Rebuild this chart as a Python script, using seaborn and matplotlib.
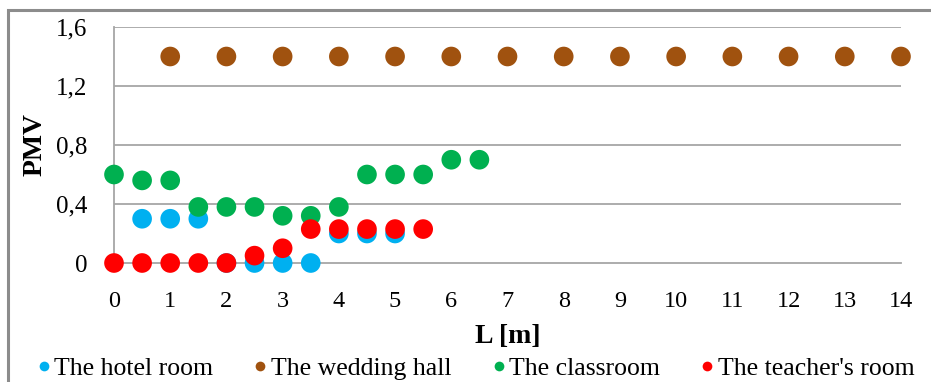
import matplotlib
matplotlib.use("Agg")
import matplotlib.pyplot as plt
from matplotlib.patches import Rectangle
from matplotlib.lines import Line2D
import seaborn as sns
import pandas as pd

sns.set_theme(style="white")
plt.rcParams["font.family"] = ["Liberation Serif", "DejaVu Serif"]
plt.rcParams["text.color"] = "black"
plt.rcParams["axes.labelcolor"] = "black"

# Measured PMV along distance L for each room
hotel_L = [0.5, 1, 1.5, 2, 2.5, 3, 3.5, 4, 4.5, 5]
hotel_pmv = [0.3, 0.3, 0.3, 0, 0, 0, 0, 0.2, 0.2, 0.2]

wedding_L = [1, 2, 3, 4, 5, 6, 7, 8, 9, 10, 11, 12, 13, 14]
wedding_pmv = [1.4] * 14

class_L = [0, 0.5, 1, 1.5, 2, 2.5, 3, 3.5, 4, 4.5, 5, 5.5, 6, 6.5]
class_pmv = [0.6, 0.56, 0.56, 0.38, 0.38, 0.38, 0.32, 0.32, 0.38, 0.6, 0.6, 0.6, 0.7, 0.7]

teacher_L = [0, 0.5, 1, 1.5, 2, 2.5, 3, 3.5, 4, 4.5, 5, 5.5]
teacher_pmv = [0, 0, 0, 0, 0, 0.05, 0.1, 0.23, 0.23, 0.23, 0.23, 0.23]

series_names = ["The hotel room", "The wedding hall", "The classroom", "The teacher's room"]
series_colors = ["#00B0F0", "#A0520F", "#00B050", "#FF0000"]

x_ticks = list(range(0, 15))
y_ticks = [0, 0.4, 0.8, 1.2, 1.6]
y_tick_labels = ["0", "0,4", "0,8", "1,2", "1,6"]

frames = []
for name, xs, ys in zip(series_names,
                        [hotel_L, wedding_L, class_L, teacher_L],
                        [hotel_pmv, wedding_pmv, class_pmv, teacher_pmv]):
    frames.append(pd.DataFrame({"L": xs, "PMV": ys, "room": name}))
df = pd.concat(frames, ignore_index=True)

fig = plt.figure(figsize=(9.31, 3.82), dpi=100)
ax = fig.add_axes([114 / 931, 1 - 263 / 382, (901 - 114) / 931, (263 - 27) / 382])

sns.scatterplot(data=df, x="L", y="PMV", hue="room", hue_order=series_names,
                palette=series_colors, s=200, linewidth=0, ax=ax,
                legend=False, clip_on=False, zorder=3)

ax.set_xlim(0, 14)
ax.set_ylim(0, 1.6)
ax.set_xticks(x_ticks)
ax.set_xticklabels([str(t) for t in x_ticks], fontsize=17.5)
ax.set_yticks(y_ticks)
ax.set_yticklabels(y_tick_labels, fontsize=18)

grid_col = "#A6A6A6"
for y in y_ticks[1:]:
    ax.axhline(y, color=grid_col, lw=1.3, zorder=1)
for side in ["top", "right"]:
    ax.spines[side].set_visible(False)
for side in ["left", "bottom"]:
    ax.spines[side].set_color(grid_col)
    ax.spines[side].set_linewidth(1.3)
ax.tick_params(axis="both", which="major", direction="out", length=8,
               width=1.3, color=grid_col, labelcolor="black")
ax.tick_params(axis="x", pad=12)
ax.tick_params(axis="y", pad=11)

ax.set_xlabel("L [m]", fontsize=20, fontweight="bold", labelpad=9)
ax.set_ylabel("PMV", fontsize=20, fontweight="bold", labelpad=6)

handles = [Line2D([0], [0], marker="o", linestyle="none", markersize=7,
                  markerfacecolor=c, markeredgewidth=0) for c in series_colors]
fig.legend(handles, series_names, loc="lower center", ncol=4,
           bbox_to_anchor=(0.509, -0.055), frameon=False, fontsize=18.5,
           handletextpad=0.0, columnspacing=1.45, handlelength=0.8,
           labelcolor="black")

fig.patches.append(Rectangle((8 / 931, -0.1), 1.2, 1.1 - 10 / 382,
                             transform=fig.transFigure, fill=False,
                             edgecolor="#8C8C8C", lw=2.2, zorder=0))

fig.savefig("out.png", dpi=100, facecolor="white")
